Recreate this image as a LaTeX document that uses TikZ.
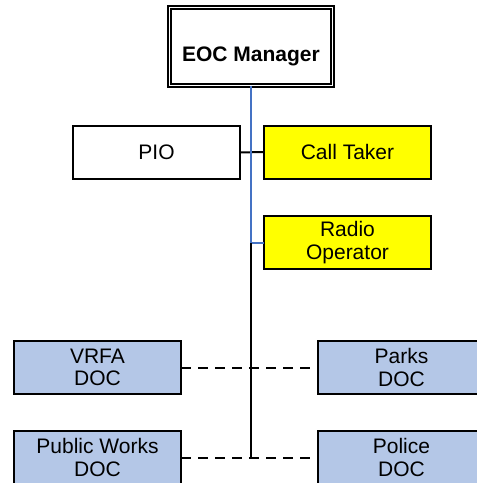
\documentclass[tikz,border=0pt]{standalone}
\usepackage{fontspec}
\setmainfont{Liberation Sans}

\definecolor{staffyellow}{HTML}{FFFF00}
\definecolor{docblue}{HTML}{B4C7E7}
\definecolor{lineblue}{HTML}{4472C4}

\newcommand\unitfont{\fontsize{10.5pt}{11.3pt}\selectfont}

\tikzset{%
  every unit/.style={
    rectangle,
    draw,
    line width=1pt,
    inner sep=0pt,
    outer sep=0pt,
    minimum width=83.5pt,
    minimum height=26.5pt,
    align=center,
    font=\unitfont
  },
  unit manager/.style={
    double,
    line width=0.75pt,
    double distance=0.75pt,
    minimum width=81.5pt,
    minimum height=39pt,
    text height=1.74em,
    text depth=0.22em
  },
  unit staff/.style={
    fill=staffyellow
  },
  unit doc/.style={
    fill=docblue
  },
  link/.style={
    line width=1pt
  },
  link dashed/.style={
    line width=1pt,
    dash pattern=on 5pt off 3.5pt
  },
}

\begin{document}
\begin{tikzpicture}[x=0.5pt, y=-0.5pt]

\useasboundingbox (0,0) rectangle (477,483);
\clip (0,0) rectangle (477,483);

% MANAGER
\node [every unit/.try, unit manager/.try]
  (manager) at (251,46.5) {\textbf{EOC Manager}};

% STAFF
\node [every unit/.try] (pio) at (156.5,152.5) {PIO};
\node [every unit/.try, unit staff/.try] (taker) at (347.5,152) {Call Taker};
\node [every unit/.try, unit staff/.try] (radio) at (347.5,242.5) {Radio\\Operator};

% DOC boxes
\foreach \m/\l/\x/\y in {vrfa/VRFA/97.5/367.5, parks/Parks/401.5/367.5,
                         works/Public Works/97.5/457.5, police/Police/401.5/457.5}
  \node [every unit/.try, unit doc/.try] (\m) at (\x,\y) {\l\\DOC};

% SPINE points
\coordinate (spine-radio) at (manager.south |- radio.west);
\coordinate (spine-end) at (manager.south |- works.east);

% Connections: PIO -> Call Taker
\draw [link] (pio.east) -- (taker.west);

% Connections: manager -> radio
\draw [link, draw=lineblue] (manager.south) -- (spine-radio) -- (radio.west);
\draw [link] (spine-radio) -- (spine-end);

% Connections: DOCs
\draw [link dashed] (vrfa.east) -- (parks.west);
\draw [link dashed] (works.east) -- (spine-end) -- (police.west);

\end{tikzpicture}
\end{document}
